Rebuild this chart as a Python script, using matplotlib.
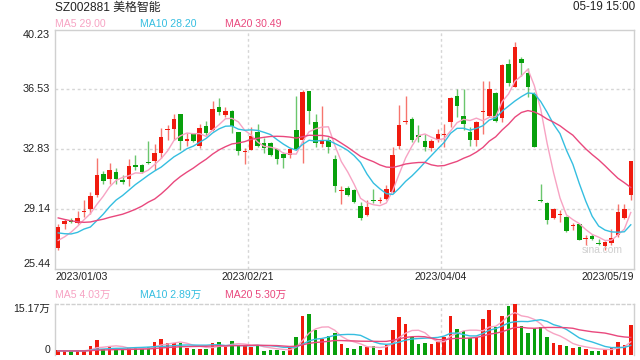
import numpy as np
import pandas as pd
import matplotlib
matplotlib.use('Agg')
import matplotlib.pyplot as plt
from matplotlib.transforms import blended_transform_factory

plt.rcParams['font.family'] = ['Liberation Sans', 'Noto Sans CJK SC']

# daily K-line data (90 trading days, 2023/01/03 - 2023/05/19)
opens = [26.76, 28.20, 28.49, 28.28, 28.98, 29.16, 29.99, 31.32, 31.01, 31.42,
         30.95, 31.01, 31.85, 31.85, 32.00, 32.14, 32.59, 34.03, 34.09, 34.99,
         33.37, 33.78, 33.06, 34.26, 34.03, 35.47, 34.95, 35.22, 33.87, 32.65,
         32.80, 33.89, 33.21, 33.21, 32.84, 32.55, 32.47, 34.03, 33.41, 36.41,
         34.54, 33.17, 33.41, 32.22, 30.23, 30.44, 30.29, 29.31, 28.80, 29.66,
         29.66, 29.78, 30.19, 33.06, 34.50, 34.69, 33.70, 33.33, 32.92, 33.41,
         33.72, 34.50, 36.15, 34.91, 33.87, 33.41, 35.14, 34.91, 36.29, 34.77,
         38.10, 36.66, 38.38, 37.52, 36.25, 29.66, 29.51, 28.61, 28.80, 28.65,
         28.12, 28.20, 27.30, 27.48, 27.05, 26.85, 27.05, 27.52, 28.61, 29.99]
closes = [28.04, 28.40, 28.34, 28.59, 29.02, 29.94, 31.24, 30.87, 31.53, 31.01,
          30.83, 31.77, 31.73, 31.44, 31.96, 32.59, 33.58, 34.09, 34.69, 33.37,
          33.45, 33.37, 34.13, 33.82, 35.32, 35.12, 35.22, 34.24, 32.72, 32.70,
          33.68, 33.06, 32.92, 32.45, 32.22, 32.31, 32.84, 32.86, 36.35, 35.22,
          33.21, 33.37, 32.96, 30.58, 30.27, 29.99, 29.57, 28.61, 29.25, 29.62,
          29.70, 30.40, 32.45, 34.36, 34.58, 33.41, 33.58, 32.96, 33.37, 33.78,
          33.76, 35.98, 35.49, 34.40, 33.41, 34.50, 35.18, 36.53, 34.61, 38.03,
          36.90, 39.12, 38.18, 36.66, 33.00, 29.62, 28.49, 29.16, 28.84, 27.79,
          28.16, 27.26, 27.34, 27.32, 26.97, 27.11, 27.36, 28.96, 29.12, 32.10]
highs = [28.24, 28.53, 28.61, 29.02, 29.68, 30.19, 32.31, 31.48, 31.98, 31.69,
         31.22, 32.24, 32.51, 31.94, 33.37, 33.13, 34.13, 34.36, 35.02, 35.00,
         33.82, 33.82, 34.40, 34.61, 35.80, 35.99, 35.43, 35.26, 33.91, 32.92,
         34.19, 34.40, 33.54, 33.27, 32.88, 32.65, 32.92, 36.15, 36.49, 36.41,
         35.00, 35.53, 33.58, 32.51, 30.54, 30.54, 30.40, 29.57, 29.68, 30.35,
         29.88, 30.60, 33.00, 35.59, 36.15, 34.81, 34.36, 33.78, 33.48, 34.07,
         34.40, 36.08, 36.56, 36.56, 34.19, 34.61, 37.03, 37.03, 36.35, 38.10,
         38.40, 39.43, 38.51, 37.85, 36.35, 30.70, 29.57, 29.22, 29.06, 28.69,
         28.28, 28.24, 27.52, 27.62, 27.30, 27.15, 27.93, 29.47, 29.47, 32.14]
lows = [26.64, 27.93, 28.28, 28.24, 28.65, 28.86, 29.88, 30.70, 30.66, 30.70,
        30.70, 30.54, 31.53, 31.36, 31.90, 31.53, 32.31, 33.41, 33.41, 32.80,
        33.06, 33.27, 32.92, 33.74, 33.99, 34.97, 34.85, 33.82, 32.47, 31.90,
        32.76, 33.00, 32.59, 32.39, 31.94, 31.69, 32.31, 32.80, 31.98, 34.40,
        32.96, 32.96, 32.59, 30.19, 29.47, 29.92, 29.51, 28.49, 28.73, 29.51,
        29.51, 29.72, 30.13, 32.84, 34.40, 33.27, 33.27, 32.72, 32.72, 33.27,
        32.96, 34.19, 34.81, 34.03, 33.06, 33.06, 33.78, 34.81, 34.50, 34.50,
        36.76, 36.66, 37.38, 36.04, 33.00, 29.60, 28.20, 28.55, 28.34, 27.71,
        27.83, 27.21, 26.91, 27.21, 26.91, 26.60, 26.91, 27.42, 28.55, 29.72]
# volume in 万手
volumes = [1.5, 1.1, 1.1, 1.3, 1.3, 2.6, 4.5, 1.9, 2.5, 2.1,
           1.6, 2.1, 2.1, 1.9, 2.3, 3.9, 4.7, 3.5, 3.5, 3.7,
           2.1, 1.8, 1.9, 1.8, 3.5, 3.9, 2.5, 4.1, 2.9, 2.9,
           2.3, 2.7, 1.3, 1.5, 1.5, 1.3, 2.1, 5.3, 11.6, 12.3,
           7.5, 4.8, 5.6, 6.6, 3.3, 2.2, 1.8, 2.7, 2.4, 2.7,
           1.5, 3.0, 7.4, 11.4, 9.2, 5.5, 3.3, 3.7, 3.3, 4.0,
           5.5, 11.6, 7.7, 7.1, 5.0, 5.5, 10.6, 13.4, 8.2, 11.6,
           14.7, 15.17, 8.6, 6.6, 7.9, 8.2, 5.5, 3.7, 3.0, 2.7,
           2.2, 2.4, 1.8, 1.3, 1.3, 1.5, 2.2, 4.0, 3.0, 8.9]

# closes / volumes of the days before the window (only feed the moving averages)
pre_closes = [30.3, 30.0, 29.8, 29.7, 29.5, 29.4, 29.3, 29.2, 29.1, 28.9,
              28.9, 28.5, 27.6, 27.0, 28.65, 27.3, 26.9, 26.8, 27.0]
pre_volumes = [1.2] * 19

date_labels = ['2023/01/03', '2023/02/21', '2023/04/04', '2023/05/19']
date_idx = [0, 30, 60, 90]
price_ticks = [40.23, 36.53, 32.83, 29.14, 25.44]
vol_top = 15.17

RED = '#f01a0e'
GREEN = '#08a00c'
C_MA5 = '#f7a3c3'
C_MA10 = '#35bee0'
C_MA20 = '#e9487d'
GRID = '#d6d6d6'

n = len(closes)
x = np.arange(n) + 0.5
o = np.array(opens)
c = np.array(closes)
up = c >= o
colors = np.where(up, RED, GREEN)

pc = pd.Series(pre_closes + closes)
pv = pd.Series(pre_volumes + volumes)
k = len(pre_closes)
ma_price = {w: pc.rolling(w).mean().values[k:] for w in (5, 10, 20)}
ma_vol = {w: pv.rolling(w).mean().values[k:] for w in (5, 10, 20)}

fig = plt.figure(figsize=(6.4, 3.6), dpi=100)
fig.patch.set_facecolor('white')

ax = fig.add_axes([55 / 640, 1 - 269 / 360, 579 / 640, 239.5 / 360])
axv = fig.add_axes([55 / 640, 1 - 355 / 360, 579 / 640, 51 / 360])

# --- price panel ---
ax.vlines(x, lows, highs, colors=colors, lw=1.0, alpha=0.6, zorder=2)
body = np.maximum(np.abs(c - o), 0.06)
ax.bar(x, body, bottom=np.minimum(o, c), width=0.7, color=colors, linewidth=0, zorder=3)
ax.plot(x, ma_price[5], color=C_MA5, lw=1.0, zorder=4)
ax.plot(x, ma_price[10], color=C_MA10, lw=1.0, zorder=4)
ax.plot(x, ma_price[20], color=C_MA20, lw=1.0, zorder=4)

ax.set_xlim(0, n)
ax.set_ylim(price_ticks[-1], price_ticks[0])
for p in price_ticks[1:-1]:
    ax.axhline(p, color=GRID, lw=1, ls=(0, (2, 2)), zorder=1)
for d in date_idx[1:-1]:
    ax.axvline(d, color=GRID, lw=1, ls=(0, (2, 2)), zorder=1)
ax.set_xticks([])
ax.set_yticks([])
for s in ax.spines.values():
    s.set_color('#d0d0d0')
    s.set_linewidth(1)

tr = blended_transform_factory(ax.transAxes, ax.transData)
for i, p in enumerate(price_ticks):
    va = 'top' if i == 0 else ('bottom' if i == len(price_ticks) - 1 else 'center')
    ax.text(-0.008, p, f'{p:.2f}', transform=tr, ha='right', va=va,
            fontsize=7.8, color='#222222')

ax.text(0.945, 0.081, 'sina.com', transform=ax.transAxes, ha='center', va='center',
        fontsize=7.4, color='#cfcfcf', zorder=5)

# --- volume panel ---
axv.bar(x, volumes, width=0.55, color=colors, linewidth=0, zorder=3)
axv.plot(x, ma_vol[5], color=C_MA5, lw=1.0, zorder=4)
axv.plot(x, ma_vol[10], color=C_MA10, lw=1.0, zorder=4)
axv.plot(x, ma_vol[20], color=C_MA20, lw=1.0, zorder=4)
axv.set_xlim(0, n)
axv.set_ylim(0, vol_top)
for d in date_idx[1:-1]:
    axv.axvline(d, color=GRID, lw=1, ls=(0, (2, 2)), zorder=1)
axv.set_xticks([])
axv.set_yticks([])
for name, s in axv.spines.items():
    s.set_color('#d0d0d0')
    s.set_linewidth(1)
axv.spines['top'].set_linestyle((0, (2, 2)))
axv.spines['bottom'].set_visible(False)

trv = blended_transform_factory(axv.transAxes, axv.transData)
axv.text(-0.008, vol_top, f'{vol_top:.2f}万', transform=trv, ha='right', va='top',
         fontsize=7.6, color='#222222')
axv.text(-0.008, 0, '0', transform=trv, ha='right', va='bottom',
         fontsize=7.6, color='#222222')

# --- header and labels ---
def ftext(px, py, s, **kw):
    fig.text(px / 640, 1 - py / 360, s, **kw)

ftext(55, 7.5, 'SZ002881 美格智能', fontsize=8.6, color='#222222', va='center')
ftext(635, 7.5, '05-19 15:00', fontsize=8.4, color='#222222', va='center', ha='right')
ftext(55, 24, 'MA5 29.00', fontsize=7.6, color=C_MA5, va='center')
ftext(140, 24, 'MA10 28.20', fontsize=7.6, color=C_MA10, va='center')
ftext(225, 24, 'MA20 30.49', fontsize=7.6, color=C_MA20, va='center')

ftext(55, 295, 'MA5 4.03万', fontsize=7.6, color=C_MA5, va='center')
ftext(140, 295, 'MA10 2.89万', fontsize=7.6, color=C_MA10, va='center')
ftext(225, 295, 'MA20 5.30万', fontsize=7.6, color=C_MA20, va='center')

x0, x1 = 55, 634
for lab, d in zip(date_labels, date_idx):
    px = x0 + (x1 - x0) * d / n
    ha = 'left' if d == 0 else ('right' if d == n else 'center')
    ftext(px, 277, lab, fontsize=7.6, color='#222222', va='center', ha=ha)

fig.savefig('out.png', dpi=100)
